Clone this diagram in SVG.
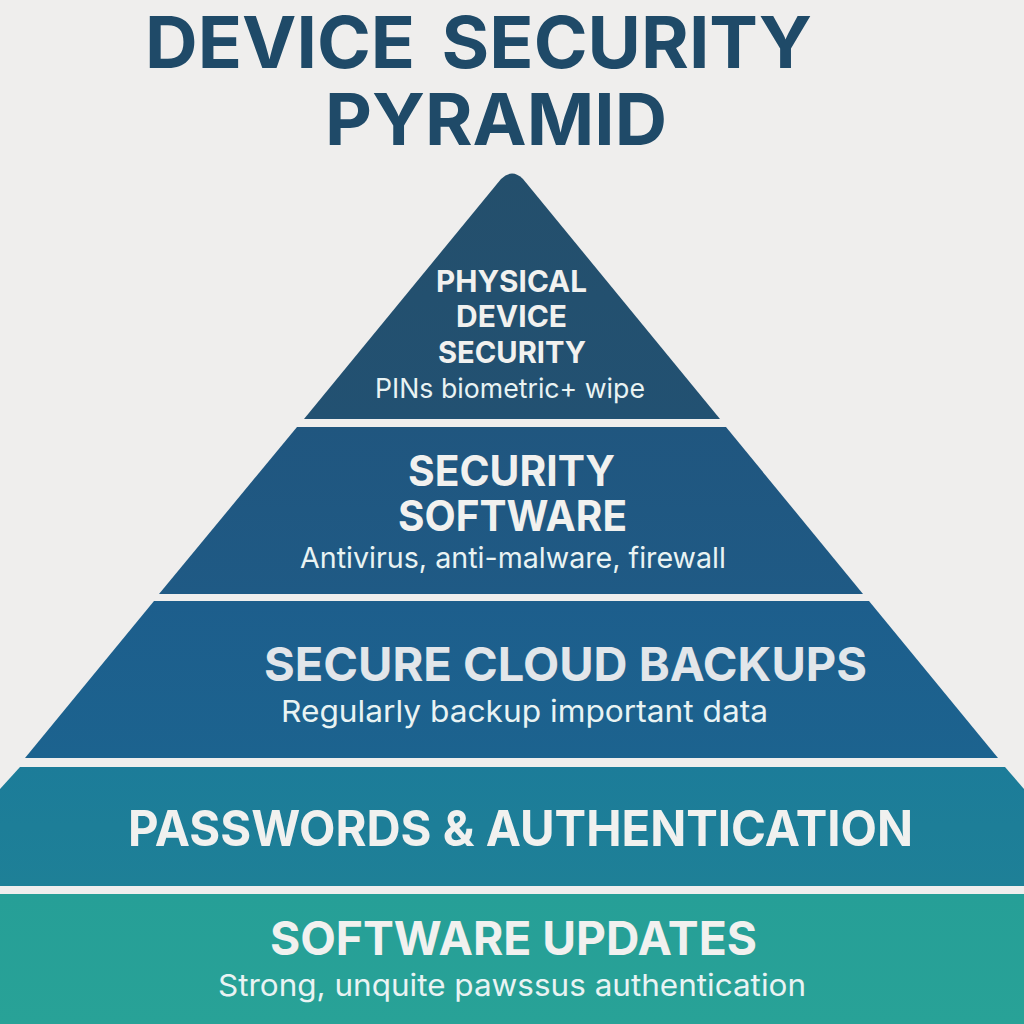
<svg xmlns="http://www.w3.org/2000/svg" width="1024" height="1024" viewBox="0 0 1024 1024">
<style>
text{font-family:"Inter","Liberation Sans",sans-serif;fill:#f1f1ef;text-anchor:start}
.title{fill:#1f4a68;font-weight:700;font-size:72px;word-spacing:9px}
.h{font-weight:700}
.s{font-weight:400;fill:#e9f3f3}
</style>
<defs>
<linearGradient id="g1" x1="0" y1="0" x2="0" y2="1"><stop offset="0" stop-color="#244f6c"/><stop offset="1" stop-color="#225172"/></linearGradient>
<linearGradient id="g2" x1="0" y1="0" x2="0" y2="1"><stop offset="0" stop-color="#20567f"/><stop offset="1" stop-color="#1f5a85"/></linearGradient>
<linearGradient id="g3" x1="0" y1="0" x2="0" y2="1"><stop offset="0" stop-color="#1d5e8c"/><stop offset="1" stop-color="#1c638f"/></linearGradient>
<linearGradient id="g4" x1="0" y1="0" x2="0" y2="1"><stop offset="0" stop-color="#1c7c99"/><stop offset="1" stop-color="#1e8097"/></linearGradient>
<linearGradient id="g5" x1="0" y1="0" x2="0" y2="1"><stop offset="0" stop-color="#269f97"/><stop offset="1" stop-color="#28a297"/></linearGradient>
</defs>
<rect width="1024" height="1024" fill="#efeeed"/>
<g id="title">
<text class="title" x="145" y="68" textLength="667" lengthAdjust="spacingAndGlyphs">DEVICE SECURITY</text>
<text class="title" x="325" y="145" textLength="342" lengthAdjust="spacingAndGlyphs">PYRAMID</text>
</g>
<g id="tier-physical">
<path d="M304 419L501 179Q512 168 523 179L720 419Z" fill="url(#g1)"/>
<text class="h" font-size="30" x="436" y="292" textLength="151" lengthAdjust="spacingAndGlyphs">PHYSICAL</text>
<text class="h" font-size="30" x="456" y="327" textLength="111" lengthAdjust="spacingAndGlyphs">DEVICE</text>
<text class="h" font-size="30" x="438" y="363" textLength="148" lengthAdjust="spacingAndGlyphs">SECURITY</text>
<text class="s" font-size="27" x="375" y="398" textLength="270" lengthAdjust="spacingAndGlyphs">PINs biometric+ wipe</text>
</g>
<g id="tier-software">
<path d="M297 427L726 427L863 594L159 594Z" fill="url(#g2)"/>
<text class="h" font-size="42" x="408" y="486" textLength="207" lengthAdjust="spacingAndGlyphs">SECURITY</text>
<text class="h" font-size="42" x="398" y="531" textLength="229" lengthAdjust="spacingAndGlyphs">SOFTWARE</text>
<text class="s" font-size="29" x="300" y="568" textLength="426" lengthAdjust="spacingAndGlyphs">Antivirus, anti-malware, firewall</text>
</g>
<g id="tier-backups">
<path d="M154 601L869 601L998 758L25 758Z" fill="url(#g3)"/>
<text class="h" font-size="47" x="264" y="681" textLength="603" lengthAdjust="spacingAndGlyphs" style="fill:#e2e6ea">SECURE CLOUD BACKUPS</text>
<text class="s" font-size="30" x="281" y="722" textLength="487" lengthAdjust="spacingAndGlyphs">Regularly backup important data</text>
</g>
<g id="tier-passwords">
<path d="M20 767L1005 767L1024 789L1024 886L0 886L0 789Z" fill="url(#g4)"/>
<text class="h" font-size="49" x="128" y="846" textLength="785" lengthAdjust="spacingAndGlyphs">PASSWORDS &amp; AUTHENTICATION</text>
</g>
<g id="tier-updates">
<rect x="0" y="894" width="1024" height="130" fill="url(#g5)"/>
<text class="h" font-size="47" x="270" y="955" textLength="487" lengthAdjust="spacingAndGlyphs">SOFTWARE UPDATES</text>
<text class="s" font-size="30" x="218" y="996" textLength="588" lengthAdjust="spacingAndGlyphs">Strong, unquite pawssus authentication</text>
</g>
<g id="connectors"/>
</svg>
